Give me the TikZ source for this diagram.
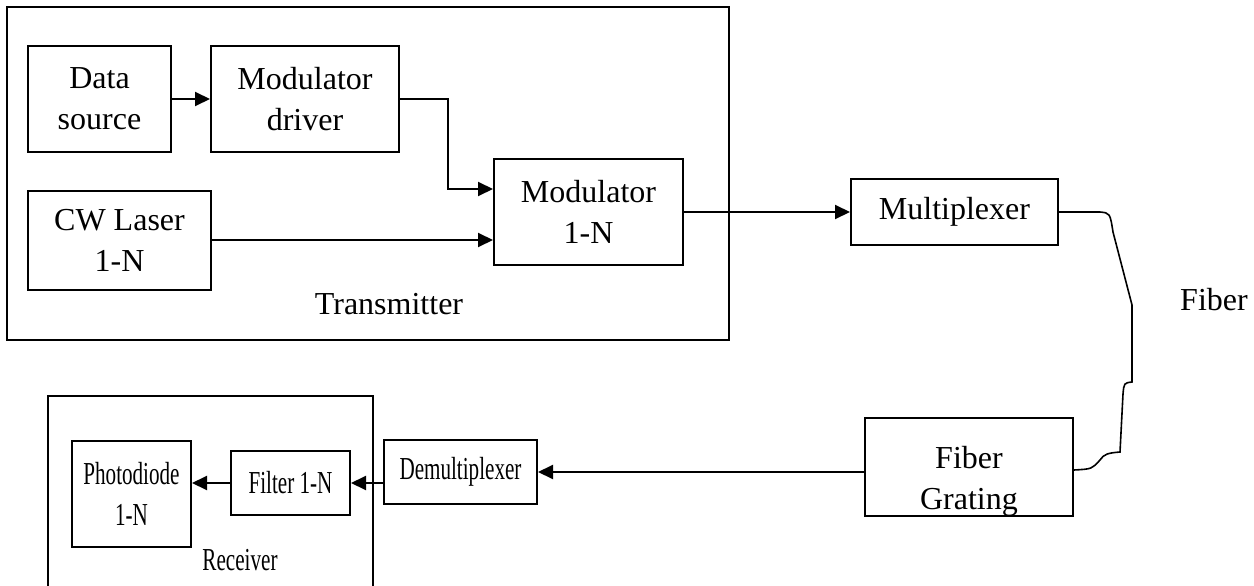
\documentclass[tikz,border=0pt]{standalone}
\usepackage{fontspec}
\setmainfont{Liberation Serif}
\usepackage{graphicx}
\usetikzlibrary{arrows.meta}
\newcommand{\squeezed}[1]{\scalebox{0.66}[1]{#1}}

\begin{document}
\begin{tikzpicture}[x=1pt,y=-1pt,line width=2pt,
  font=\fontsize{32}{41}\selectfont,
  blk/.style={draw,inner sep=0pt,align=center},
  arr/.style={-{Triangle[length=15pt,width=14pt]}}]
  \useasboundingbox (0,0) rectangle (1254,586);
  % transmitter side
  \draw (7,7) rectangle (729,340);
  \node[blk,minimum width=143pt,minimum height=106pt] (datasrc) at (99.5,99) {Data\\source};
  \node[blk,minimum width=188pt,minimum height=106pt] (driver) at (305,99) {Modulator\\driver};
  \node[blk,minimum width=183pt,minimum height=99pt] (laser) at (119.5,240) {CW Laser\\1-N};
  \node[blk,minimum width=189pt,minimum height=106pt] (modulator) at (588.5,212) {Modulator\\1-N};
  \node (tx) at (389,304) {Transmitter};
  \draw[arr] (datasrc.east) -- (driver.west);
  \draw[arr] (driver.east) -- ++(48,0) |- ([yshift=23pt]modulator.west);
  \draw[arr] (laser.east) -- (laser.east -| modulator.west);
  % link
  \node[blk,minimum width=207pt,minimum height=66pt] (mux) at (954.5,212) {Multiplexer};
  \node[blk,minimum width=208pt,minimum height=98pt] (grating) at (969,467) {};
  \node[align=center] (gratingtxt) at ([yshift=-14pt]grating.center) {Fiber\\Grating};
  \node (fiber) at (1214,300) {Fiber};
  \draw[arr] (modulator.east) -- (mux.west);
  \draw[line width=1.6pt] (mux.east) -- (1100,212) .. controls (1110,213) .. (1113,232)
    -- (1132,305) -- (1132,382) .. controls (1124,383) .. (1123,394) -- (1120,452)
    .. controls (1108,453) and (1104,454) .. (1100,460) .. controls (1092,469) .. ([yshift=-3pt]grating.east);
  % receiver side
  \draw (48,590) -- (48,396) -- (373,396) -- (373,590);
  \node[blk,minimum width=153pt,minimum height=64pt] (demux) at (460.5,472) {\squeezed{Demultiplexer}};
  \node[blk,minimum width=119pt,minimum height=64pt] (filter) at (290.5,483) {\squeezed{Filter 1-N}};
  \node[blk,minimum width=119pt,minimum height=106pt] (photo) at (131.5,494) {\squeezed{Photodiode}\\\squeezed{1-N}};
  \node (rx) at (240,560) {\squeezed{Receiver}};
  \draw[arr] (grating.west |- demux) -- (demux.east);
  \draw[arr] (demux.west |- filter) -- (filter.east);
  \draw[arr] (filter.west) -- (filter.west -| photo.east);
\end{tikzpicture}
\end{document}
